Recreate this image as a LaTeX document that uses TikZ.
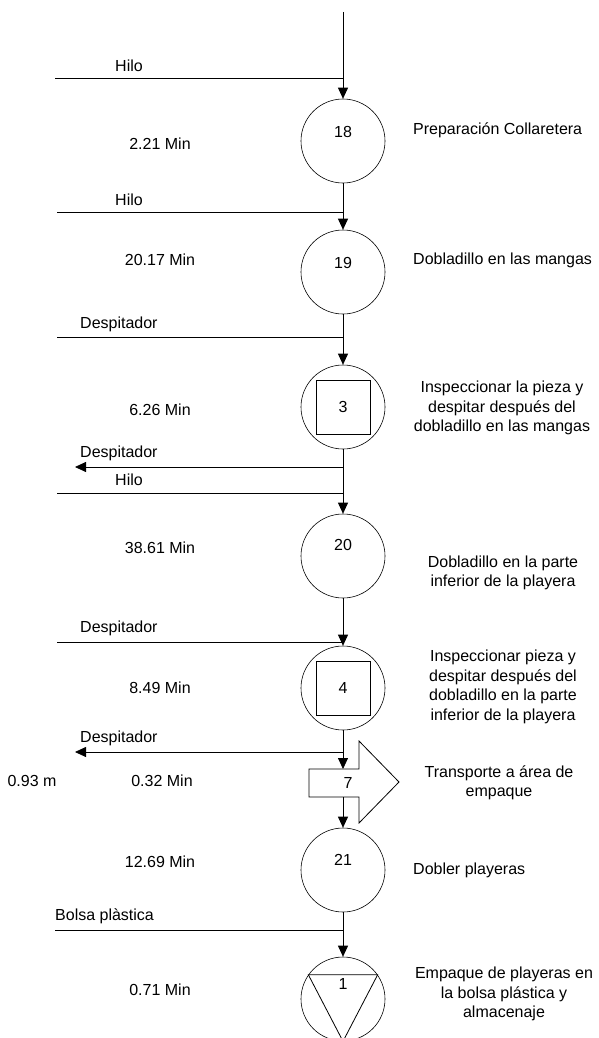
\documentclass[tikz,border=0pt]{standalone}
\usepackage{fontspec}
\setmainfont{Liberation Sans}
\usetikzlibrary{arrows.meta}

\begin{document}
\begin{tikzpicture}[
    x=1pt, y=-1pt,
    >={Triangle[length=11pt, width=10pt]},
    every node/.style={font=\fontsize{16}{19.5}\selectfont, inner sep=0pt},
    flow/.style={->, line width=0.8pt},
    feed/.style={line width=0.8pt},
    op/.style={circle, draw, line width=0.6pt, minimum size=84pt},
    box/.style={draw, line width=0.6pt, minimum size=54pt},
    desc/.style={align=center},
  ]

  \useasboundingbox (0,0) rectangle (599,1038);

  % === Operations on the main line ===
  \coordinate (top) at (343,12);
  \node[op] (c18) at (343,141) {};
  \node (n18) at (343,132) {18};
  \node[op] (c19) at (343,272) {};
  \node (n19) at (343,263) {19};
  \node[op] (c3) at (343,407) {};
  \node[box] (b3) at (343,407) {3};
  \node[op] (c20) at (343,556) {};
  \node (n20) at (343,545) {20};
  \node[op] (c4) at (343,688) {};
  \node[box] (b4) at (343,688) {4};
  \node[op] (c21) at (343,870) {};
  \node (n21) at (343,860) {21};
  \node[op] (c1) at (343,999) {};
  \draw[feed] (c1.145) -- (c1.35) -- (c1.south) -- cycle;
  \node (n1) at (343,984) {1};

  % Transport arrow
  \draw[feed] (309,769) -- (359,769) -- (359,741) -- (399,782)
    -- (359,823) -- (359,797) -- (309,797) -- cycle;
  \node (t7) at (348,783) {7};
  \coordinate (a7in) at (343,769);
  \coordinate (a7out) at (343,797);

  % === Main flow ===
  \draw[flow] (top) -- (c18);
  \draw[flow] (c18) -- (c19);
  \draw[flow] (c19) -- (c3);
  \draw[flow] (c3) -- (c20);
  \draw[flow] (c20) -- (c4);
  \draw[flow] (c4) -- (a7in);
  \draw[flow] (a7out) -- (c21);
  \draw[flow] (c21) -- (c1);

  % === Materials in and out ===
  \coordinate (hilo1) at (55,78);   \coordinate (j1) at (343,78);
  \coordinate (hilo2) at (57,212);  \coordinate (j2) at (343,212);
  \coordinate (desp1) at (57,337);  \coordinate (j3) at (343,337);
  \coordinate (desp2) at (75,467);  \coordinate (j4) at (343,467);
  \coordinate (hilo3) at (57,493);  \coordinate (j5) at (343,493);
  \coordinate (desp3) at (57,642);  \coordinate (j6) at (343,642);
  \coordinate (desp4) at (75,752);  \coordinate (j7) at (343,752);
  \coordinate (bolsa) at (55,930);  \coordinate (j8) at (343,930);

  \draw[feed] (hilo1) -- (j1);
  \draw[feed] (hilo2) -- (j2);
  \draw[feed] (desp1) -- (j3);
  \draw[flow] (j4) -- (desp2);
  \draw[feed] (hilo3) -- (j5);
  \draw[feed] (desp3) -- (j6);
  \draw[flow] (j7) -- (desp4);
  \draw[feed] (bolsa) -- (j8);

  \node[anchor=west] (lhilo1) at (115,66) {Hilo};
  \node[anchor=west] (lhilo2) at (115,200) {Hilo};
  \node[anchor=west] (ldesp1) at (80,324) {Despitador};
  \node[anchor=west] (ldesp2) at (80,453) {Despitador};
  \node[anchor=west] (lhilo3) at (115,480) {Hilo};
  \node[anchor=west] (ldesp3) at (80,628) {Despitador};
  \node[anchor=west] (ldesp4) at (80,738) {Despitador};
  \node[anchor=west] (lbolsa) at (55,916) {Bolsa plàstica};

  % === Times and distance ===
  \node (t18) at (160,144) {2.21 Min};
  \node (t19) at (160,260) {20.17 Min};
  \node (t3) at (160,410) {6.26 Min};
  \node (t20) at (160,548) {38.61 Min};
  \node (t4) at (160,688) {8.49 Min};
  \node (tt7) at (162,781) {0.32 Min};
  \node (d7) at (32,781) {0.93 m};
  \node (t21) at (160,862) {12.69 Min};
  \node (t1) at (160,990) {0.71 Min};

  % === Descriptions ===
  \node[anchor=west] (e18) at (413,130) {Preparación Collaretera};
  \node[anchor=west] (e19) at (413,260) {Dobladillo en las mangas};
  \node[desc] (e3) at (502,408)
    {Inspeccionar la pieza y\\despitar después del\\dobladillo en las mangas};
  \node[desc] (e20) at (503,573)
    {Dobladillo en la parte\\inferior de la playera};
  \node[desc] (e4) at (503,687)
    {Inspeccionar pieza y\\despitar después del\\dobladillo en la parte\\inferior de la playera};
  \node[desc] (e7) at (499,783) {Transporte a área de\\empaque};
  \node[anchor=west] (e21) at (413,870) {Dobler playeras};
  \node[desc] (e1) at (504,994)
    {Empaque de playeras en\\la bolsa plástica y\\almacenaje};

\end{tikzpicture}
\end{document}
